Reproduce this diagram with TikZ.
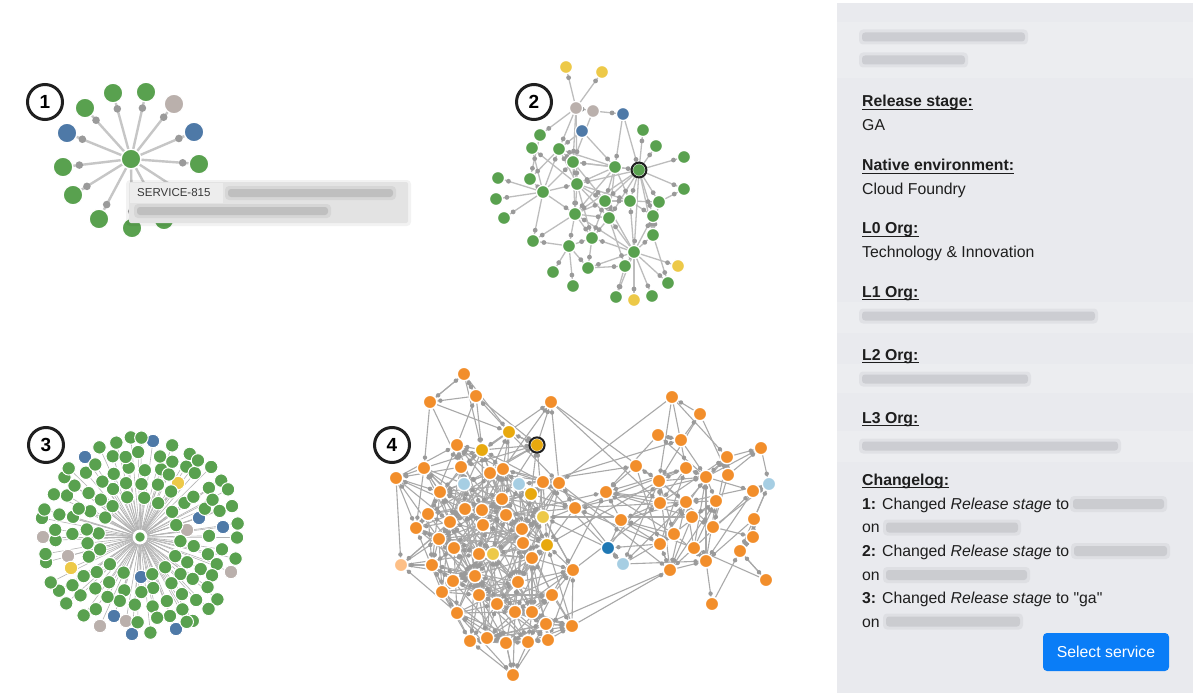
\documentclass[tikz,border=0pt]{standalone}
\usepackage{fontspec}
\setmainfont{Liberation Sans}
\newfontfamily\qfont{Liberation Sans}
\usetikzlibrary{calc}
\pgfdeclarelayer{base}\pgfdeclarelayer{bg}\pgfdeclarelayer{mid}\pgfdeclarelayer{fg}
\pgfsetlayers{base,bg,mid,main,fg}
\definecolor{cG}{HTML}{59A14F}
\definecolor{cB}{HTML}{4E79A7}
\definecolor{cE}{HTML}{BAB0AC}
\definecolor{cY}{HTML}{EDC948}
\definecolor{cO}{HTML}{F28E2B}
\definecolor{cD}{HTML}{E8A90E}
\definecolor{cL}{HTML}{A6CEE3}
\definecolor{cK}{HTML}{1F78B4}
\definecolor{cP}{HTML}{FDBF86}
\definecolor{edgeA}{HTML}{C6C6C6}
\definecolor{edgeB}{HTML}{BDBDBD}
\definecolor{edgeC}{HTML}{B3B3B3}
\definecolor{edgeD}{HTML}{A9A9A9}
\definecolor{dotc}{HTML}{9A9A9A}
\definecolor{panelbg}{HTML}{E9EAEE}
\definecolor{bandc}{HTML}{ECEDF0}
\definecolor{blurc}{HTML}{B4B5BB}
\definecolor{blurd}{HTML}{A4A4A4}
\definecolor{txt}{HTML}{1E1E1E}
\definecolor{btnc}{HTML}{0A7DF7}
\definecolor{tipbg}{HTML}{E3E3E3}
\definecolor{tipbox}{HTML}{EDEDED}
\newcommand\blurbar[5]{%
  \fill[#5, opacity=0.2, rounded corners=4pt] ({#1-3},{#3-#4/2-3}) rectangle ({#2+3},{#3+#4/2+3});
  \fill[#5, opacity=0.45, rounded corners=3pt] ({#1},{#3-#4/2}) rectangle ({#2},{#3+#4/2});
}
\newcommand\hfont{\fontsize{15.8}{18}\selectfont\bfseries}
\newcommand\heading[3]{%
  \node[lab, font=\hfont] (#1) at (862,#2) {#3};
  \draw[txt, line width=1.1pt] ([yshift=-2.8pt]#1.base west) -- ([yshift=-2.8pt]#1.base east);
}
\tikzset{
  gn/.style={circle, inner sep=0pt, minimum size=#1pt, draw=white, line width=1.2pt},
  e1/.style={draw=edgeA, line width=2.4pt},
  e2/.style={draw=edgeB, line width=1.3pt},
  e3/.style={draw=edgeC, line width=0.6pt},
  e4/.style={draw=edgeD, line width=1.1pt},
  badge/.style={circle, draw=black!88, line width=3pt, fill=white, minimum size=35pt, inner sep=0pt, font=\fontsize{19}{19}\selectfont\bfseries},
  lab/.style={anchor=base west, inner sep=0pt, font=\fontsize{15.8}{18}\selectfont, text=txt},
}
\begin{document}
\begin{tikzpicture}[x=1pt,y=-1pt]
\path[use as bounding box] (0,0) rectangle (1196,698);
\begin{pgfonlayer}{base}
\fill[white] (0,0) rectangle (1196,698);
\end{pgfonlayer}

% ---------------- Panel 1 ----------------
\node[gn=19.5, fill=cG] (A0) at (131,159) {};
\foreach \k/\x/\y/\c in {1/113/93/G, 2/146/92/G, 3/85/108/G, 4/174/104/E, 5/67/133/B, 6/194/132/B, 7/63/167/G, 8/199/164/G, 9/73/195/G, 10/99/219/G, 11/132/228/G, 12/164/220/G, 13/188/196/G}{
  \node[gn=19.5, fill=c\c] (A\k) at (\x,\y) {};
}
\begin{pgfonlayer}{bg}
\foreach \k in {1,...,13}{\draw[e1] (A0) -- (A\k);}
\end{pgfonlayer}
\begin{pgfonlayer}{mid}
\foreach \k in {1,...,13}{\fill[dotc] ($(A0)!0.76!(A\k)$) circle (3.8pt);}
\end{pgfonlayer}

% ---------------- Panel 2 ----------------
\foreach \k/\x/\y/\c in {1/566/67/Y, 2/602/72/Y, 3/576/108/E, 4/593/111/E, 5/623/114/B, 6/582/131/B, 7/540/135/G, 8/643/130/G, 9/532/148/G, 10/559/149/G, 11/656/146/G, 12/573/162/G, 13/615/167/G, 14/639/170/G, 15/684/157/G, 16/498/178/G, 17/530/179/G, 18/577/184/G, 19/684/189/G, 20/543/192/G, 21/496/199/G, 22/605/201/G, 23/630/201/G, 24/659/202/G, 25/575/214/G, 26/609/218/G, 27/653/216/G, 28/504/218/G, 29/592/238/G, 30/653/235/G, 31/533/241/G, 32/569/246/G, 33/634/252/G, 34/588/268/G, 35/625/266/G, 36/553/272/G, 37/573/286/G, 38/668/283/G, 39/616/297/G, 40/652/296/G, 41/678/266/Y, 42/634/300/Y}{
  \node[gn=13, fill=c\c] (B\k) at (\x,\y) {};
}
\draw[black!88, line width=2pt] (B14) circle (7.4pt);
\def\blist{3/1, 3/2, 4/5, 3/4, 3/7, 3/10, 3/12, 3/18, 6/13, 6/10, 5/13, 5/14, 4/12,
  14/8, 14/11, 14/15, 14/19, 13/14, 14/18, 14/22, 14/23, 14/24, 14/26, 14/27, 14/30, 14/12, 14/25, 14/33,
  13/12, 13/18, 13/22, 13/23, 13/25, 13/26, 13/10,
  18/9, 18/10, 18/12, 20/18, 18/22, 18/25, 18/29, 18/26, 18/23,
  20/16, 20/17, 20/21, 20/28, 20/9, 20/25, 20/12, 20/10, 20/31,
  33/35, 33/38, 33/39, 33/40, 33/41, 33/42, 33/30, 33/29, 33/25, 33/22, 33/26, 33/34, 33/23, 33/27,
  25/31, 25/32, 25/29, 25/22, 25/26, 32/36, 32/37, 32/34, 32/29, 32/31,
  22/23, 22/26, 23/24, 23/27, 24/19, 26/29, 27/30, 29/34, 34/35, 35/39, 12/10, 12/22, 22/29, 26/35,
  30/38, 12/25, 10/17, 7/17, 24/30}
\begin{pgfonlayer}{bg}
\foreach \a/\b in \blist {\draw[e2] (B\a) -- (B\b);}
\end{pgfonlayer}
\begin{pgfonlayer}{mid}
\foreach \a/\b in \blist {\fill[dotc] ($(B\b)!11pt!(B\a)$) circle (2.4pt);}
\end{pgfonlayer}

% ---------------- Panel 3 ----------------
\pgfmathsetseed{11}
\node[circle, inner sep=0pt, minimum size=12pt, fill=cG, draw=white, line width=2.6pt] (C0) at (140,537) {};
\def\specials{153/441/B, 85/457/B, 199/518/B, 223/527/B, 141/577/B, 114/616/B, 132/634/B, 176/629/B, 43/537/E, 187/530/E, 68/556/E, 231/572/E, 100/626/E, 126/621/E, 178/483/Y, 71/568/Y}
\gdef\clist{S1}
\foreach \sx/\sy/\sc [count=\s] in \specials {
  \node[gn=13.5, fill=c\sc, line width=1pt] (S\s) at (\sx,\sy) {};
  \ifnum\s>1 \xdef\clist{\clist,S\s}\fi
}
\foreach \r/\n/\off [count=\ri] in {40/16/4, 54.5/22/9, 69/28/2, 83.5/34/6, 98/40/1}{
  \foreach \k in {1,...,\n}{
    \pgfmathsetmacro\aj{\off+360*\k/\n+3*rand}
    \pgfmathsetmacro\rj{\r+2.2*rand}
    \pgfmathsetmacro\px{140+\rj*cos(\aj)}
    \pgfmathsetmacro\py{537+\rj*sin(\aj)}
    \gdef\skipit{0}
    \foreach \sx/\sy/\sc in \specials {
      \pgfmathtruncatemacro\flag{veclen(\px-\sx,\py-\sy)<10.5?1:0}
      \ifnum\flag=1 \gdef\skipit{1}\fi
    }
    \ifnum\skipit=0
      \node[gn=13.5, fill=cG, line width=1pt] (C\ri-\k) at (\px,\py) {};
      \xdef\clist{\clist,C\ri-\k}
    \fi
  }
}
\begin{pgfonlayer}{bg}
\foreach \nm in \clist {\draw[e3] (C0) -- (\nm);}
\end{pgfonlayer}

% ---------------- Panel 4 ----------------
\foreach \k/\x/\y/\c in {1/464/374/O, 2/430/402/O, 3/476/396/O, 4/551/402/O, 5/509/432/D, 6/537/445/D, 7/457/445/O, 8/482/450/D, 9/424/468/O, 10/396/478/O, 11/461/467/O, 12/490/473/O, 13/503/469/O, 14/464/484/L, 15/519/484/L, 16/543/482/O, 17/559/483/O, 18/440/492/O, 19/531/494/D, 20/502/499/O, 21/428/514/O, 22/465/509/O, 23/482/510/O, 24/506/515/O, 25/543/517/Y, 26/575/508/O, 27/450/522/O, 28/483/525/O, 29/416/528/O, 30/522/529/O, 31/439/539/O, 32/523/543/O, 33/454/548/O, 34/547/545/D, 35/479/554/O, 36/493/554/Y, 37/532/558/O, 38/401/565/P, 39/432/565/O, 40/475/576/O, 41/518/582/O, 42/573/570/O, 43/453/581/O, 44/442/592/O, 45/479/595/O, 46/497/604/O, 47/552/595/O, 48/457/613/O, 49/515/612/O, 50/532/612/O, 51/546/624/O, 52/572/626/O, 53/470/641/O, 54/487/638/O, 55/506/643/O, 56/528/642/O, 57/548/640/O, 58/513/675/O, 59/606/492/O, 60/621/520/O, 61/608/548/K, 62/623/564/L, 63/636/466/O, 64/672/397/O, 65/700/414/O, 66/658/435/O, 67/681/440/O, 68/761/448/O, 69/727/457/O, 70/686/468/O, 71/659/481/O, 72/706/477/O, 73/728/475/O, 74/769/484/L, 75/753/491/O, 76/660/503/O, 77/686/502/O, 78/716/501/O, 79/692/517/O, 80/754/519/O, 81/713/527/O, 82/674/534/O, 83/753/537/O, 84/660/544/O, 85/694/548/O, 86/740/551/O, 87/706/561/O, 88/670/570/O, 89/766/580/O, 90/712/604/O}{
  \node[gn=13.5, fill=c\c, line width=1.4pt] (D\k) at (\x,\y) {};
  \expandafter\xdef\csname DX\k\endcsname{\x}
  \expandafter\xdef\csname DY\k\endcsname{\y}
  \expandafter\xdef\csname NNd\k\endcsname{9999}
  \expandafter\xdef\csname NNj\k\endcsname{1}
}
\draw[black!88, line width=2pt] (D6) circle (7.6pt);
\pgfmathsetseed{5}
\gdef\elist{1/3/1}
\foreach \i in {1,...,89}{
  \pgfmathtruncatemacro\jstart{\i+1}
  \foreach \j in {\jstart,...,90}{
    \pgfmathsetmacro\dd{veclen(\csname DX\i\endcsname-\csname DX\j\endcsname,\csname DY\i\endcsname-\csname DY\j\endcsname)}
    \pgfmathsetmacro\rr{rnd}
    \ifnum\j<59 \def\RR{88}\def\PP{0.5}\else
      \ifnum\i>58 \def\RR{92}\def\PP{0.3}\else
        \ifnum\csname DX\i\endcsname>535 \def\RR{150}\def\PP{0.16}\else \def\RR{125}\def\PP{0.035}\fi
      \fi\fi
    \pgfmathtruncatemacro\flag{(\dd<\RR)&&(\rr<\PP)?1:0}
    \ifnum\flag=1
      \pgfmathtruncatemacro\side{\rr<\PP/2?1:0}
      \xdef\elist{\elist,\i/\j/\side}
    \fi
    \pgfmathtruncatemacro\ci{\dd<\csname NNd\i\endcsname?1:0}
    \ifnum\ci=1 \expandafter\xdef\csname NNd\i\endcsname{\dd}\expandafter\xdef\csname NNj\i\endcsname{\j}\fi
    \pgfmathtruncatemacro\cj{\dd<\csname NNd\j\endcsname?1:0}
    \ifnum\cj=1 \expandafter\xdef\csname NNd\j\endcsname{\dd}\expandafter\xdef\csname NNj\j\endcsname{\i}\fi
  }
}
\foreach \k in {1,...,90}{\xdef\elist{\elist,\k/\csname NNj\k\endcsname/0}}
\begin{pgfonlayer}{bg}
\foreach \a/\b/\s in \elist {\draw[e4] (D\a) -- (D\b);}
\end{pgfonlayer}
\begin{pgfonlayer}{mid}
\foreach \a/\b/\s in \elist {
  \ifnum\s=1 \fill[dotc] ($(D\b)!10.5pt!(D\a)$) circle (2.2pt);
  \else \fill[dotc] ($(D\a)!10.5pt!(D\b)$) circle (2.2pt);\fi
}
\end{pgfonlayer}

% ---------------- Panel badges ----------------
\node[badge] (L1) at (45,102) {1};
\node[badge] (L2) at (534,102) {2};
\node[badge] (L3) at (46,445) {3};
\node[badge] (L4) at (392,445) {4};

% ---------------- Tooltip ----------------
\begin{pgfonlayer}{fg}
\fill[black, opacity=0.05, rounded corners=4pt] (126,180) rectangle (411,226);
\fill[tipbg, rounded corners=2pt] (129,182) rectangle (408,223);
\fill[tipbox] (130,183) rectangle (223,203);
\node[anchor=west, inner sep=0pt, font=\fontsize{11.5}{12}\selectfont, text=black!78] (tip) at (137,193) {SERVICE-815};
\blurbar{228}{393}{193}{8}{blurd}
\blurbar{137}{328}{211}{8}{blurd}
\end{pgfonlayer}

% ---------------- Sidebar ----------------
\fill[panelbg] (837,3) rectangle (1193,693);
\fill[bandc] (837,22) rectangle (1193,78);
\fill[bandc] (837,302) rectangle (1193,333);
\fill[bandc] (837,364) rectangle (1193,393);
\fill[bandc] (837,431) rectangle (1193,462);
\blurbar{862}{1025}{37}{9}{blurc}
\blurbar{862}{965}{60}{9}{blurc}
\heading{h1}{107}{Release stage:}
\node[lab] (v1) at (862,131) {GA};
\heading{h2}{170.5}{Native environment:}
\node[lab] (v2) at (862,194.5) {Cloud Foundry};
\heading{h3}{233.5}{L0 Org:}
\node[lab] (v3) at (862,257.5) {Technology \& Innovation};
\heading{h4}{297}{L1 Org:}
\blurbar{862}{1095}{316}{9}{blurc}
\heading{h5}{360}{L2 Org:}
\blurbar{862}{1028}{379}{9}{blurc}
\heading{h6}{423}{L3 Org:}
\blurbar{862}{1118}{446}{9}{blurc}
\heading{h7}{485}{Changelog:}
\node[lab] (c1) at (862,509) {\textbf{1:} Changed \textit{Release stage} to};
\blurbar{1073}{1164}{504}{10}{blurc}
\node[lab] (o1) at (862,532.7) {on};
\blurbar{886}{1018}{527.5}{10}{blurc}
\node[lab] (c2) at (862,556.5) {\textbf{2:} Changed \textit{Release stage} to};
\blurbar{1074}{1167}{551}{10}{blurc}
\node[lab] (o2) at (862,580) {on};
\blurbar{886}{1027}{575}{10}{blurc}
\node[lab] (c3) at (862,603.5) {\textbf{3:} Changed \textit{Release stage} to {\qfont"ga"}};
\node[lab] (o3) at (862,627) {on};
\blurbar{886}{1020}{621.5}{10}{blurc}
\node[fill=btnc, rounded corners=4pt, minimum width=126pt, minimum height=38pt, inner sep=0pt, text=white, font=\fontsize{15.8}{18}\selectfont] (btn) at (1106,652) {Select service};
\end{tikzpicture}
\end{document}
